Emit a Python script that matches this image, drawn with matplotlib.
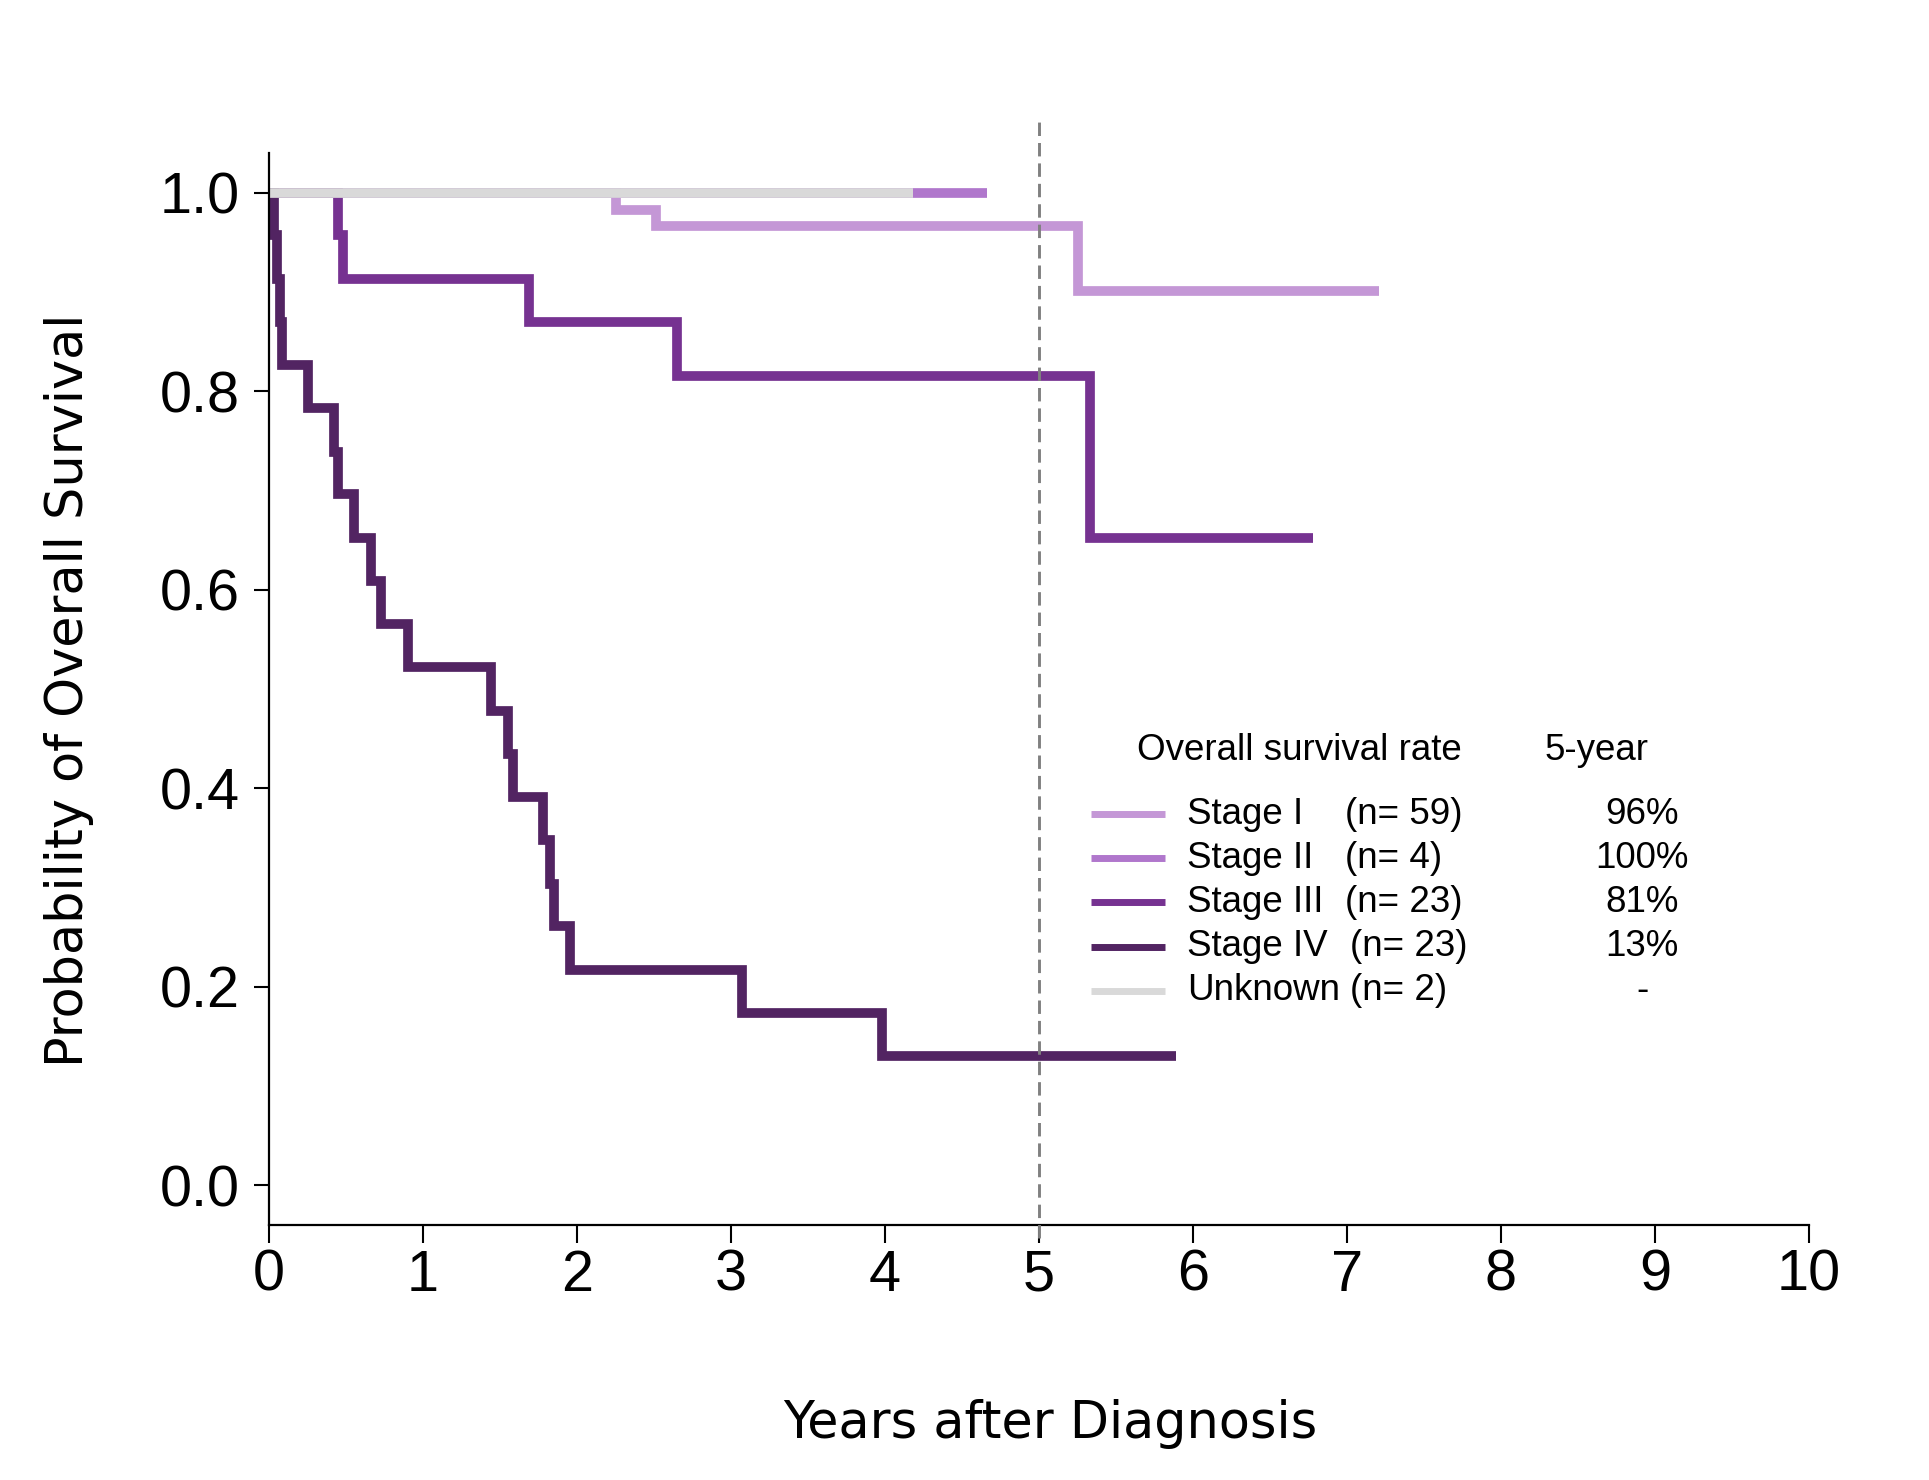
import matplotlib
matplotlib.use("Agg")
import matplotlib.pyplot as plt
from matplotlib.lines import Line2D

# Kaplan-Meier steps (years, survival probability)
stage1_t = [0, 2.25, 2.51, 5.25, 7.21]
stage1_s = [1.0, 0.983, 0.966, 0.901, 0.901]
stage2_t = [0, 4.66]
stage2_s = [1.0, 1.0]
stage3_t = [0, 0.445, 0.48, 1.69, 2.65, 5.33, 6.78]
stage3_s = [1.0, 0.957, 0.913, 0.870, 0.815, 0.652, 0.652]
stage4_t = [0, 0.03, 0.055, 0.07, 0.085, 0.25, 0.42, 0.45, 0.555, 0.66, 0.725,
            0.90, 1.44, 1.55, 1.585, 1.78, 1.825, 1.85, 1.955, 3.07, 3.98, 5.89]
stage4_s = [1.0, 0.957, 0.913, 0.870, 0.826, 0.783, 0.739, 0.696, 0.652, 0.609,
            0.565, 0.522, 0.478, 0.435, 0.391, 0.348, 0.304, 0.261, 0.217,
            0.174, 0.130, 0.130]
unknown_t = [0, 4.18]
unknown_s = [1.0, 1.0]

group_names = ["Stage I", "Stage II", "Stage III", "Stage IV", "Unknown"]
group_n = ["(n= 59)", "(n= 4)", "(n= 23)", "(n= 23)", "(n= 2)"]
five_year = ["96%", "100%", "81%", "13%", "-"]
colors = ["#C497D6", "#B077CC", "#763291", "#522462", "#D9D9D9"]

x_ticks = list(range(0, 11))
y_ticks = [0.0, 0.2, 0.4, 0.6, 0.8, 1.0]

W, H = 1929, 1480
fig = plt.figure(figsize=(W / 100, H / 100), dpi=100)
ax = fig.add_axes([269 / W, 1 - 1225 / H, (1809 - 269) / W, (1225 - 153) / H])

curves = [(stage1_t, stage1_s), (stage2_t, stage2_s), (stage3_t, stage3_s),
          (stage4_t, stage4_s), (unknown_t, unknown_s)]
for (t, s), c in zip(curves, colors):
    ax.step(t, s, where="post", color=c, lw=7, solid_joinstyle="miter",
            solid_capstyle="butt", clip_on=False)

# 5-year reference line
ax.plot([5, 5], [-0.053, 1.077], color="#808080", lw=2.1,
        dashes=(4.6, 2.4), clip_on=False, zorder=5)

ax.set_xlim(0, 10)
ax.set_ylim(-0.04, 1.04)
ax.set_xticks(x_ticks)
ax.set_xticklabels([str(v) for v in x_ticks])
ax.set_yticks(y_ticks)
ax.set_yticklabels([f"{v:.1f}" for v in y_ticks])
for side in ["top", "right"]:
    ax.spines[side].set_visible(False)
for side in ["left", "bottom"]:
    ax.spines[side].set_linewidth(1.6)

ax.tick_params(axis="x", length=13, width=1.5, pad=4)
ax.tick_params(axis="y", length=11, width=1.5, pad=10)
for lab in ax.get_xticklabels() + ax.get_yticklabels():
    lab.set_fontfamily("Liberation Sans")
    lab.set_fontsize(41.5)

fig.text(1050 / W, 1 - 1438 / H, "Years after Diagnosis", family="DejaVu Sans",
         fontsize=36.6, ha="center", va="baseline")
fig.text(83 / W, 1 - 690 / H, "Probability of Overall Survival", family="DejaVu Sans",
         fontsize=36.6, rotation=90, rotation_mode="anchor", ha="center", va="baseline")

# table-style legend
leg_font = dict(family="Liberation Sans", fontsize=26.5)
fig.text(1137 / W, 1 - 750 / H, "Overall survival rate", ha="left", va="center", **leg_font)
fig.text(1545 / W, 1 - 750 / H, "5-year", ha="left", va="center", **leg_font)
row_y0, row_dy = 814, 44.2
for i, (name, n, rate, c) in enumerate(zip(group_names, group_n, five_year, colors)):
    y = 1 - (row_y0 + i * row_dy) / H
    fig.add_artist(Line2D([1091 / W, 1165 / W], [y, y], color=c, lw=5,
                          solid_capstyle="butt", transform=fig.transFigure))
    fig.text(1187 / W, y, name, ha="left", va="center", **leg_font)
    nx = 1345 if i < 3 else 1350
    fig.text(nx / W, y, n, ha="left", va="center", **leg_font)
    fig.text(1642 / W, y, rate, ha="center", va="center", **leg_font)

fig.savefig("out.png", dpi=100)
